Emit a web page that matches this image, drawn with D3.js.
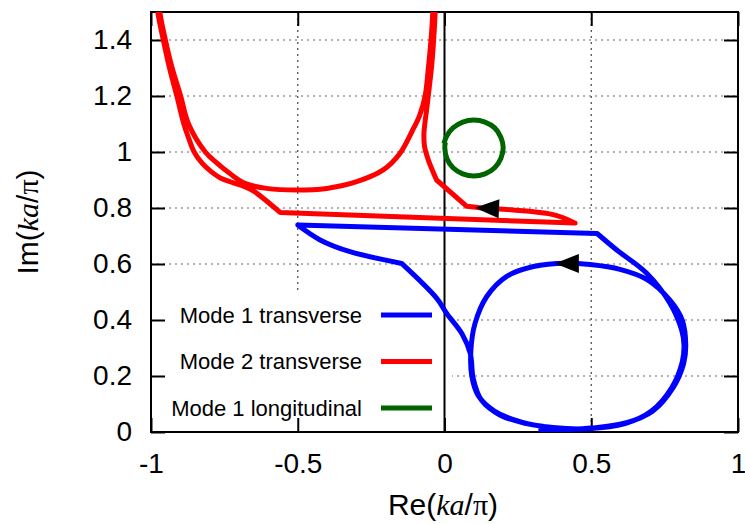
<!DOCTYPE html>
<html lang="en">
<head>
<meta charset="UTF-8">
<title>Complex wavenumber trajectories</title>
<style>
  body { margin: 0; background: #fff; }
  svg { display: block; font-family: "Liberation Sans", Arial, sans-serif; }
</style>
</head>
<body>
<svg id="chart" width="745" height="524"></svg>
<script src="https://cdn.jsdelivr.net/npm/d3@7/dist/d3.min.js"></script>
<script>
// ticks
var xTicks = [-1, -0.5, 0, 0.5, 1];
var xTickLabels = ["-1", "-0.5", "0", "0.5", "1"];
var yTicks = [0, 0.2, 0.4, 0.6, 0.8, 1, 1.2, 1.4];
var yTickLabels = ["0", "0.2", "0.4", "0.6", "0.8", "1", "1.2", "1.4"];

// series names (legend order)
var seriesNames = ["Mode 1 transverse", "Mode 2 transverse", "Mode 1 longitudinal"];

// [Re(ka/pi), Im(ka/pi)].
// a corner point is listed twice so the smooth curve keeps it sharp
var mode1T = [
  [0.32, 0.004], [0.40, 0.008], [0.50, 0.014], [0.62, 0.033], [0.71, 0.075],
  [0.78, 0.16], [0.815, 0.245], [0.822, 0.31], [0.81, 0.40], [0.768, 0.471],
  [0.689, 0.545], [0.598, 0.581], [0.496, 0.598], [0.416, 0.603], [0.303, 0.591],
  [0.212, 0.556], [0.144, 0.484], [0.104, 0.388], [0.09, 0.293], [0.093, 0.20],
  [0.115, 0.13], [0.17, 0.075], [0.26, 0.036], [0.37, 0.016], [0.49, 0.012],
  [0.615, 0.03], [0.705, 0.075], [0.775, 0.16], [0.81, 0.25], [0.816, 0.31],
  [0.808, 0.364], [0.768, 0.46], [0.689, 0.567], [0.587, 0.65],
  [0.52, 0.709], [0.52, 0.709],
  [-0.50, 0.739], [-0.50, 0.739],
  [-0.424, 0.686], [-0.322, 0.644],
  [-0.146, 0.602], [-0.146, 0.602],
  [-0.027, 0.478], [0.007, 0.424], [0.06, 0.35], [0.088, 0.28], [0.098, 0.19],
  [0.125, 0.115], [0.19, 0.06], [0.28, 0.03], [0.34, 0.02]
];

var mode2T = [
  [-0.985, 1.6], [-0.977, 1.5], [-0.958, 1.4], [-0.937, 1.3], [-0.912, 1.2],
  [-0.888, 1.1], [-0.872, 1.05], [-0.853, 1.0], [-0.826, 0.96], [-0.795, 0.93],
  [-0.76, 0.905], [-0.72, 0.89], [-0.685, 0.878], [-0.65, 0.86],
  [-0.56, 0.784], [-0.56, 0.784],
  [0.445, 0.746], [0.445, 0.746],
  [0.40, 0.767], [0.354, 0.780], [0.234, 0.793], [0.12, 0.801],
  [0.076, 0.806], [0.076, 0.806],
  [-0.027, 0.9], [-0.027, 0.9],
  [-0.055, 0.971], [-0.068, 1.02], [-0.07, 1.067], [-0.066, 1.11], [-0.061, 1.15],
  [-0.052, 1.23], [-0.044, 1.305], [-0.037, 1.4], [-0.032, 1.495], [-0.03, 1.6],
  [-0.04, 1.6], [-0.04, 1.5], [-0.046, 1.4], [-0.055, 1.3], [-0.066, 1.2],
  [-0.085, 1.13], [-0.11, 1.075], [-0.152, 0.995], [-0.209, 0.936], [-0.299, 0.894],
  [-0.401, 0.870], [-0.504, 0.864], [-0.606, 0.870], [-0.68, 0.888], [-0.73, 0.922],
  [-0.775, 0.96], [-0.815, 1.0], [-0.872, 1.1], [-0.899, 1.2], [-0.928, 1.3],
  [-0.951, 1.4], [-0.970, 1.5], [-0.978, 1.6]
];

var mode1L = [
  [-0.002, 1.03], [0.008, 1.058], [0.029, 1.086], [0.062, 1.107], [0.10, 1.114],
  [0.138, 1.107], [0.171, 1.086], [0.192, 1.053], [0.20, 1.015], [0.192, 0.977],
  [0.171, 0.944], [0.138, 0.922], [0.10, 0.914], [0.062, 0.922], [0.029, 0.944],
  [0.008, 0.977], [0.001, 1.015], [0.003, 1.035]
];

// direction arrows: tip and a point behind it on the curve
var arrowTips = [[0.104, 0.801], [0.376, 0.602]];
var arrowTails = [[0.19, 0.797], [0.455, 0.602]];

var seriesData = [mode1T, mode2T, mode1L];
var seriesColors = ["#0000ff", "#ff0000", "#006400"];

var svg = d3.select("#chart");
var plotL = 151, plotR = 738, plotT = 12, plotB = 432;

var x = d3.scaleLinear().domain([-1, 1]).range([plotL, plotR]);
var y = d3.scaleLinear().domain([0, 1.5]).range([plotB, plotT]);

// grid
svg.append("g").selectAll("line")
  .data(yTicks.filter(function(d) { return d > 0; }))
  .join("line")
  .attr("x1", plotL).attr("x2", plotR)
  .attr("y1", function(d) { return y(d); }).attr("y2", function(d) { return y(d); })
  .attr("stroke", "#666").attr("stroke-width", 1.2).attr("stroke-dasharray", "2,4");

svg.append("g").selectAll("line")
  .data(xTicks.filter(function(d) { return d !== 0 && Math.abs(d) < 1; }))
  .join("line")
  .attr("x1", function(d) { return x(d); }).attr("x2", function(d) { return x(d); })
  .attr("y1", plotT).attr("y2", plotB)
  .attr("stroke", "#444").attr("stroke-width", 1.2).attr("stroke-dasharray", "2,4");

// opaque key box hides the grid under it
svg.append("rect")
  .attr("x", plotL + 1).attr("y", 292)
  .attr("width", 451 - plotL).attr("height", plotB - 292)
  .attr("fill", "#fff");

// zero axis
svg.append("line")
  .attr("x1", x(0)).attr("x2", x(0)).attr("y1", plotT).attr("y2", plotB)
  .attr("stroke", "#000").attr("stroke-width", 2);

// axes with inward ticks
function styleAxis(g) {
  g.select(".domain").remove();
  g.selectAll(".tick line").attr("stroke", "#000").attr("stroke-width", 2);
  g.selectAll(".tick text").attr("fill", "#000");
  g.attr("font-size", 28).attr("font-family", "Liberation Sans, Arial, sans-serif");
}

svg.append("g")
  .attr("transform", "translate(0," + plotB + ")")
  .call(d3.axisBottom(x).tickValues(xTicks)
    .tickFormat(function(d, i) { return xTickLabels[i]; })
    .tickSizeInner(-14).tickSizeOuter(0).tickPadding(21))
  .call(styleAxis);

svg.append("g")
  .attr("transform", "translate(" + plotL + ",0)")
  .call(d3.axisLeft(y).tickValues(yTicks)
    .tickFormat(function(d, i) { return yTickLabels[i]; })
    .tickSizeInner(-14).tickSizeOuter(0).tickPadding(19))
  .call(styleAxis);

svg.append("g")
  .attr("transform", "translate(0," + plotT + ")")
  .call(d3.axisTop(x).tickValues(xTicks).tickFormat("")
    .tickSizeInner(-14).tickSizeOuter(0))
  .call(styleAxis);

svg.append("g")
  .attr("transform", "translate(" + plotR + ",0)")
  .call(d3.axisRight(y).tickValues(yTicks).tickFormat("")
    .tickSizeInner(-14).tickSizeOuter(0))
  .call(styleAxis);

// frame
svg.append("rect")
  .attr("x", plotL).attr("y", plotT)
  .attr("width", plotR - plotL).attr("height", plotB - plotT)
  .attr("fill", "none").attr("stroke", "#000").attr("stroke-width", 2);

// curves
svg.append("clipPath").attr("id", "plot-clip")
  .append("rect")
  .attr("x", plotL).attr("y", plotT)
  .attr("width", plotR - plotL).attr("height", plotB - plotT);

var line = d3.line()
  .x(function(d) { return x(d[0]); })
  .y(function(d) { return y(d[1]); })
  .curve(d3.curveCatmullRom.alpha(0.5));

svg.append("g").attr("clip-path", "url(#plot-clip)")
  .selectAll("path")
  .data(seriesData)
  .join("path")
  .attr("d", line)
  .attr("fill", "none")
  .attr("stroke", function(d, i) { return seriesColors[i]; })
  .attr("stroke-width", 5)
  .attr("stroke-linejoin", "round");

// arrow heads
svg.append("g").selectAll("path")
  .data(arrowTips)
  .join("path")
  .attr("d", function(d, i) {
    var tx = x(d[0]), ty = y(d[1]);
    var bx = x(arrowTails[i][0]), by = y(arrowTails[i][1]);
    var len = Math.hypot(bx - tx, by - ty);
    var ux = (bx - tx) / len, uy = (by - ty) / len;
    var L = 24, W = 9.5;
    var cx = tx + ux * L, cy = ty + uy * L;
    return "M" + tx + "," + ty +
      "L" + (cx - uy * W) + "," + (cy + ux * W) +
      "L" + (cx + uy * W) + "," + (cy - ux * W) + "Z";
  })
  .attr("fill", "#000");

// key
var key = svg.append("g").selectAll("g")
  .data(seriesNames)
  .join("g")
  .attr("transform", function(d, i) { return "translate(0," + (315 + i * 46.5) + ")"; });

key.append("text")
  .attr("x", 362).attr("y", 7.5)
  .attr("text-anchor", "end")
  .attr("font-size", 22)
  .attr("fill", "#000")
  .text(function(d) { return d; });

key.append("line")
  .attr("x1", 381).attr("x2", 432)
  .attr("y1", 0).attr("y2", 0)
  .attr("stroke", function(d, i) { return seriesColors[i]; })
  .attr("stroke-width", 5);

// axis titles
function axisTitle(t, part) {
  t.append("tspan").text(part + "(");
  t.append("tspan").attr("font-family", "Liberation Serif, serif").attr("font-style", "italic").text("ka");
  t.append("tspan").text("/");
  t.append("tspan").attr("font-family", "Liberation Serif, serif").text("\u03c0");
  t.append("tspan").text(")");
}

svg.append("text")
  .attr("x", 443).attr("y", 515)
  .attr("text-anchor", "middle")
  .attr("font-size", 30)
  .call(axisTitle, "Re");

svg.append("text")
  .attr("transform", "translate(38,222) rotate(-90)")
  .attr("text-anchor", "middle")
  .attr("font-size", 30)
  .call(axisTitle, "Im");
</script>
</body>
</html>
